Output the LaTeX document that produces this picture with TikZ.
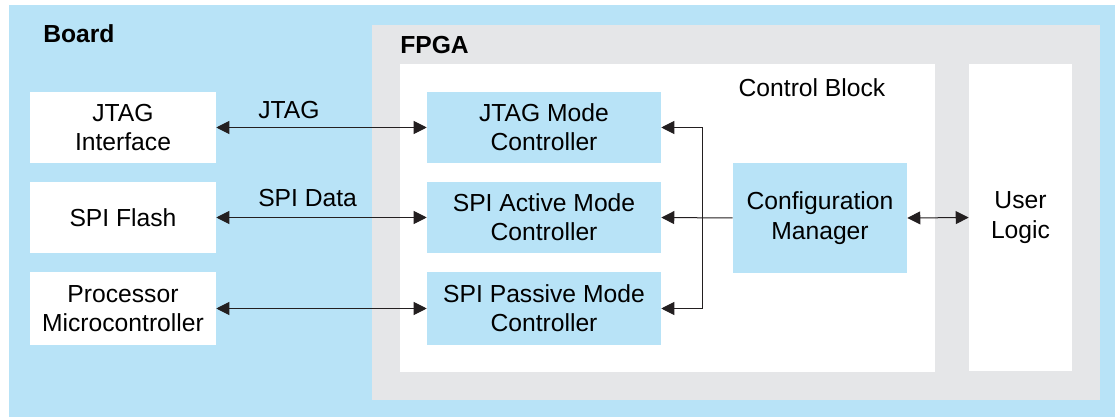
\documentclass[tikz,border=0pt]{standalone}
\usepackage{fontspec}
\setmainfont{Liberation Sans}
\usetikzlibrary{arrows.meta}
\definecolor{boardblue}{HTML}{B8E3F7}
\definecolor{fpgagray}{HTML}{E5E6E8}
\definecolor{linedark}{HTML}{231F20}
\tikzset{
  centered/.style = { align=center, anchor=center },
     block/.style = { centered, fill=white, inner sep=0pt,
                      font=\fontsize{18.5}{22}\selectfont },
      ctrl/.style = { block, fill=boardblue },
    device/.style = { block, minimum width=139.5pt, minimum height=53.25pt },
   modectl/.style = { ctrl, minimum width=175.5pt, minimum height=53.25pt },
     title/.style = { font=\fontsize{18.5}{22}\selectfont\bfseries, anchor=base west, inner sep=0pt },
       lbl/.style = { font=\fontsize{18.5}{22}\selectfont, anchor=base west, inner sep=0pt },
     arrow/.style = { line width=0.75pt, color=linedark,
                      -{Triangle[length=9.75pt,width=9.75pt]} },
    darrow/.style = { arrow, {Triangle[length=9.75pt,width=9.75pt]}-{Triangle[length=9.75pt,width=9.75pt]} }
}

\begin{document}
\begin{tikzpicture}[x=0.75pt, y=-0.75pt]
  \useasboundingbox (0,0) rectangle (1115,417);
  % board and fpga areas
  \fill[boardblue] (9,5) rectangle (1115,417);
  \fill[fpgagray] (372,25) rectangle (1100,400);
  \fill[white] (400,64) rectangle (935,372);
  \node[title] (board) at (43,43) {Board};
  \node[title] (fpga) at (400,54) {FPGA};
  \node[lbl, anchor=base] (ctrlblock) at (812,97) {Control Block};

  % left side devices
  \node[device] (jtagif) at (123,127.5) {JTAG\\Interface};
  \node[device] (spiflash) at (123,217.5) {SPI Flash};
  \node[device, minimum height=54.75pt] (proc) at (123,308.5) {Processor\\Microcontroller};

  % controllers
  \node[modectl] (jtagctl) at (544,127.5) {JTAG Mode\\Controller};
  \node[modectl] (spiact) at (544,217.5) {SPI Active Mode\\Controller};
  \node[modectl, minimum height=54.75pt] (spipas) at (544,308.5) {SPI Passive Mode\\Controller};
  \node[ctrl, minimum width=130.5pt, minimum height=82.5pt] (cfg) at (820,218) {Configuration\\Manager};
  \node[block, minimum width=77.25pt, minimum height=230.25pt] (user) at (1020.5,217.5) {User\\Logic};

  \draw [darrow] (jtagif.east) -- (jtagctl.west);
  \draw [darrow] (spiflash.east) -- (spiact.west);
  \draw [darrow] (proc.east) -- (spipas.west);
  \node[lbl] (jtaglbl) at (258,119) {JTAG};
  \node[lbl] (spilbl) at (258,207) {SPI Data};

  \coordinate (bus) at (702,218);
  \draw [arrow] (cfg.west) -- (spiact.east);
  \draw [arrow] (bus) |- (jtagctl.east);
  \draw [arrow] (bus) |- (spipas.east);
  \draw [darrow] (cfg.east) -- (user.west);
\end{tikzpicture}
\end{document}
